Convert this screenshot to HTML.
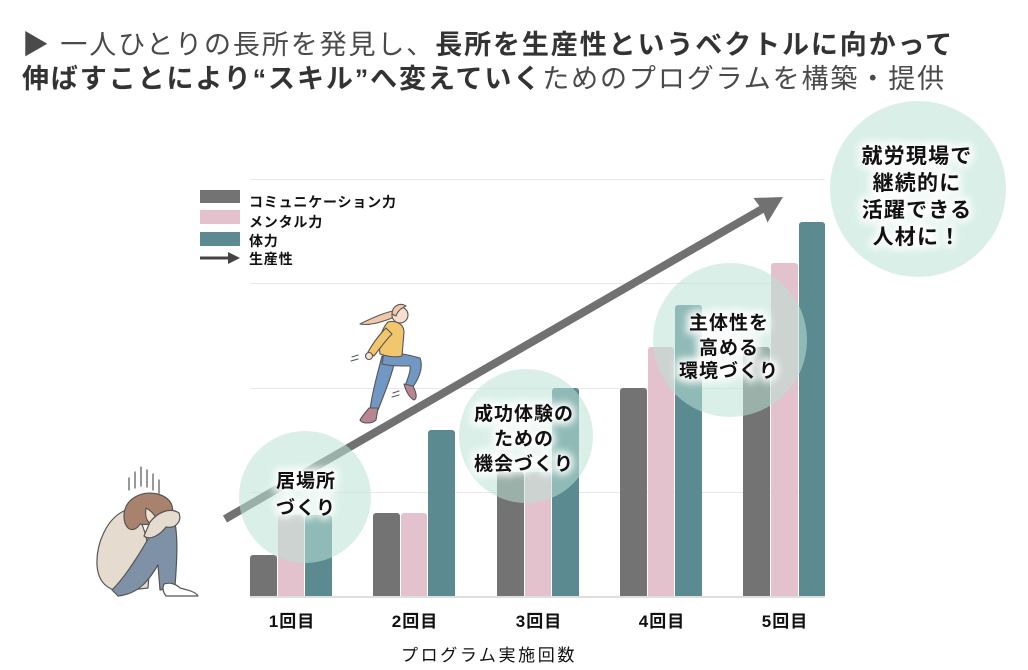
<!DOCTYPE html>
<html><head><meta charset="utf-8">
<style>
html,body{margin:0;padding:0;background:#fff;}
svg{display:block;font-family:"Liberation Sans","Noto Sans CJK JP",sans-serif;}
</style></head>
<body>
<svg width="1028" height="670" viewBox="0 0 1028 670" xmlns="http://www.w3.org/2000/svg">
<defs>
  <filter id="glow" x="-30%" y="-50%" width="160%" height="200%">
    <feGaussianBlur stdDeviation="4"/>
  </filter>
</defs>
<rect width="1028" height="670" fill="#fff"/>

<!-- Title -->
<text x="22" y="54" font-size="27" fill="#4a4a4a" letter-spacing="1.9"><tspan>▶ 一人ひとりの長所を発見し、</tspan><tspan font-weight="bold" fill="#333">長所を生産性というベクトルに向かって</tspan></text>
<text x="22" y="88" font-size="27" fill="#4a4a4a" letter-spacing="1.9"><tspan font-weight="bold" fill="#333">伸ばすことにより“スキル”へ変えていく</tspan><tspan>ためのプログラムを構築・提供</tspan></text>

<!-- gridlines -->
<g stroke="#e8e8e8" stroke-width="1">
  <line x1="250" y1="179.5" x2="825" y2="179.5"/>
  <line x1="250" y1="283.5" x2="825" y2="283.5"/>
  <line x1="250" y1="388.5" x2="825" y2="388.5"/>
  <line x1="250" y1="492.5" x2="825" y2="492.5"/>
</g>

<!-- Legend -->
<rect x="200" y="190" width="40" height="13" fill="#737373"/>
<rect x="200" y="210" width="40" height="14" fill="#e3c1cd"/>
<rect x="200" y="232" width="40" height="14" fill="#5b8b91"/>
<line x1="200" y1="258" x2="229" y2="258" stroke="#444" stroke-width="3"/>
<polygon points="240,258 228,252 228,264" fill="#444"/>
<g font-size="14" fill="#111" font-weight="bold" letter-spacing="0.8">
  <text x="249" y="207">コミュニケーション力</text>
  <text x="249" y="227">メンタル力</text>
  <text x="249" y="246">体力</text>
  <text x="249" y="264">生産性</text>
</g>

<!-- Bars -->
<g>
  <path d="M250 596V558a3 3 0 0 1 3-3h21a3 3 0 0 1 3 3V596Z" fill="#737373"/>
  <path d="M278 596V518a3 3 0 0 1 3-3h20a3 3 0 0 1 3 3V596Z" fill="#e3c1cd"/>
  <path d="M305 596V518a3 3 0 0 1 3-3h21a3 3 0 0 1 3 3V596Z" fill="#5b8b91"/>
  <path d="M373 596V516a3 3 0 0 1 3-3h21a3 3 0 0 1 3 3V596Z" fill="#737373"/>
  <path d="M401 596V516a3 3 0 0 1 3-3h20a3 3 0 0 1 3 3V596Z" fill="#e3c1cd"/>
  <path d="M428 596V433a3 3 0 0 1 3-3h21a3 3 0 0 1 3 3V596Z" fill="#5b8b91"/>
  <path d="M497 596V475a3 3 0 0 1 3-3h21a3 3 0 0 1 3 3V596Z" fill="#737373"/>
  <path d="M525 596V475a3 3 0 0 1 3-3h20a3 3 0 0 1 3 3V596Z" fill="#e3c1cd"/>
  <path d="M552 596V391a3 3 0 0 1 3-3h21a3 3 0 0 1 3 3V596Z" fill="#5b8b91"/>
  <path d="M620 596V391a3 3 0 0 1 3-3h21a3 3 0 0 1 3 3V596Z" fill="#737373"/>
  <path d="M648 596V350a3 3 0 0 1 3-3h20a3 3 0 0 1 3 3V596Z" fill="#e3c1cd"/>
  <path d="M675 596V308a3 3 0 0 1 3-3h21a3 3 0 0 1 3 3V596Z" fill="#5b8b91"/>
  <path d="M743 596V350a3 3 0 0 1 3-3h21a3 3 0 0 1 3 3V596Z" fill="#737373"/>
  <path d="M771 596V266a3 3 0 0 1 3-3h21a3 3 0 0 1 3 3V596Z" fill="#e3c1cd"/>
  <path d="M799 596V225a3 3 0 0 1 3-3h20a3 3 0 0 1 3 3V596Z" fill="#5b8b91"/>
</g>
<line x1="250" y1="597" x2="825" y2="597" stroke="#dedede" stroke-width="2"/>

<!-- Productivity arrow -->
<line x1="225" y1="519" x2="764" y2="208" stroke="#717171" stroke-width="8"/>
<polygon points="783,197 767.5,222.5 763,211 753.5,198" fill="#717171"/>

<!-- Axis labels -->
<g font-size="17" fill="#111" font-weight="bold" text-anchor="middle" letter-spacing="1">
  <text x="292" y="627">1回目</text>
  <text x="415" y="627">2回目</text>
  <text x="539" y="627">3回目</text>
  <text x="662" y="627">4回目</text>
  <text x="785" y="627">5回目</text>
</g>
<text x="489" y="661" font-size="17" fill="#111" text-anchor="middle" letter-spacing="2.6">プログラム実施回数</text>

<!-- Crouching person -->
<g stroke="#555" stroke-width="1.2" stroke-linejoin="round" stroke-linecap="round">
  <line x1="129" y1="478" x2="129" y2="490" fill="none"/>
  <line x1="135" y1="472" x2="135" y2="488" fill="none"/>
  <line x1="141" y1="467" x2="141" y2="486" fill="none"/>
  <line x1="147" y1="470" x2="147" y2="487" fill="none"/>
  <line x1="153" y1="474" x2="153" y2="490" fill="none"/>
  <line x1="159" y1="480" x2="159" y2="493" fill="none"/>
  <!-- back / sweater -->
  <path d="M126 510 C106 518 96 545 97 565 C98 582 108 591 122 591 L148 588 C150 565 150 540 140 520 Z" fill="#e6dbcf"/>
  <!-- jeans -->
  <path d="M112 590 C128 574 143 548 158 522 L172 512 C179 530 177 560 175 586 L160 590 L158 565 C150 578 140 594 118 596 Z" fill="#7f91a6"/>
  <!-- hair/head -->
  <path d="M124 516 C124 500 140 490 158 494 C171 498 176 508 170 516 C162 522 150 526 140 524 C134 534 124 530 124 516 Z" fill="#a9826e"/>
  <path d="M146 508 C153 512 158 518 156 524 C150 526 144 520 146 508 Z" fill="#efe0d3"/>
  <!-- arm -->
  <path d="M150 522 C158 512 170 507 179 513 C182 521 176 529 166 527 C160 535 150 541 144 536 Z" fill="#e6dbcf"/>
  <!-- foot -->
  <path d="M164 584 C170 582 176 584 180 588 C188 590 196 592 198 596 L166 596 C163 592 162 588 164 584 Z" fill="#fff"/>
</g>

<!-- Running woman -->
<g stroke="#555" stroke-width="1.1" stroke-linejoin="round" stroke-linecap="round">
  <path d="M394 311 C385 312 372 318 360 324 C370 326 382 322 392 318 Z" fill="#f0c9a8"/>
  <path d="M382 356 L395 360 C392 375 385 392 378 410 L370 410 C372 392 378 372 382 356 Z" fill="#7198c3"/>
  <path d="M369 408 L378 408 L376 420 C372 424 362 424 360 420 C363 415 366 412 369 408 Z" fill="#b88591"/>
  <path d="M384 352 C395 352 410 355 420 358 C424 368 418 380 412 388 L405 386 C408 378 411 370 410 366 C400 366 390 366 382 364 Z" fill="#7198c3"/>
  <path d="M404 384 L413 386 C416 392 418 398 414 400 C410 398 406 392 404 384 Z" fill="#b88591"/>
  <path d="M388 322 C396 320 404 324 404 332 L402 356 C394 358 386 356 380 354 C378 340 382 328 388 322 Z" fill="#f2c66d"/>
  <path d="M386 328 C378 336 372 345 368 352 L374 356 C380 348 386 340 392 334 Z" fill="#f2c66d"/>
  <circle cx="369" cy="356" r="3.5" fill="#f6dfcf"/>
  <circle cx="400" cy="315" r="8" fill="#f6dfcf"/>
  <path d="M392 314 C392 306 400 302 406 306 C402 308 398 310 396 316 Z" fill="#f0c9a8"/>
  <line x1="352" y1="357" x2="358" y2="355" fill="none"/>
  <line x1="351" y1="361" x2="358" y2="359" fill="none"/>
  <line x1="393" y1="393" x2="399" y2="391" fill="none"/>
  <line x1="392" y1="397" x2="399" y2="395" fill="none"/>
</g>

<!-- Circles -->
<g fill="#b9e2d6" fill-opacity="0.55">
  <circle cx="305" cy="497" r="66"/>
  <circle cx="526" cy="436" r="67"/>
  <circle cx="730" cy="340" r="77"/>
  <circle cx="918" cy="189" r="88"/>
</g>

<!-- Circle text glows -->
<g font-size="19" font-weight="bold" text-anchor="middle" letter-spacing="1" fill="#fff" stroke="#fff" stroke-width="7" filter="url(#glow)">
  <text x="306" y="487">居場所</text>
  <text x="306" y="514">づくり</text>
  <text x="524" y="420">成功体験の</text>
  <text x="524" y="445">ための</text>
  <text x="524" y="470">機会づくり</text>
  <text x="729" y="329">主体性を</text>
  <text x="729" y="354">高める</text>
  <text x="729" y="377">環境づくり</text>
</g>
<g font-size="19" font-weight="bold" text-anchor="middle" letter-spacing="1" fill="#111">
  <text x="306" y="487">居場所</text>
  <text x="306" y="514">づくり</text>
  <text x="524" y="420">成功体験の</text>
  <text x="524" y="445">ための</text>
  <text x="524" y="470">機会づくり</text>
  <text x="729" y="329">主体性を</text>
  <text x="729" y="354">高める</text>
  <text x="729" y="377">環境づくり</text>
</g>
<g font-size="21" font-weight="bold" text-anchor="middle" letter-spacing="1.2" fill="#fff" stroke="#fff" stroke-width="7" filter="url(#glow)">
  <text x="917" y="163">就労現場で</text>
  <text x="917" y="190">継続的に</text>
  <text x="917" y="217">活躍できる</text>
  <text x="917" y="244">人材に！</text>
</g>
<g font-size="21" font-weight="bold" text-anchor="middle" letter-spacing="1.2" fill="#111">
  <text x="917" y="163">就労現場で</text>
  <text x="917" y="190">継続的に</text>
  <text x="917" y="217">活躍できる</text>
  <text x="917" y="244">人材に！</text>
</g>
</svg>
</body></html>
